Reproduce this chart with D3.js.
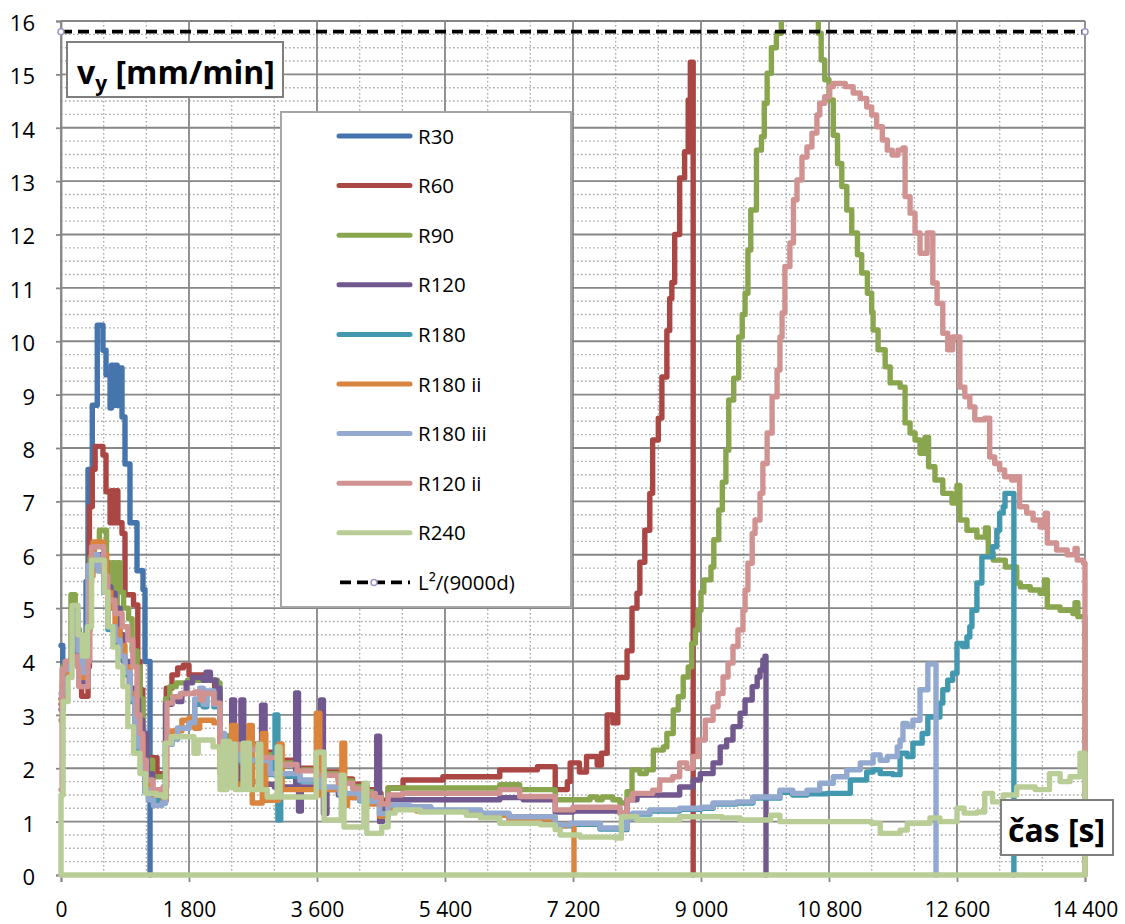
<!DOCTYPE html>
<html><head><meta charset="utf-8">
<script src="https://cdn.jsdelivr.net/npm/d3@7"></script>
<style>body{margin:0;background:#fff;} svg{display:block;font-family:"Open Sans",sans-serif;} text{white-space:pre;}</style>
</head><body><svg id="c" width="1125" height="924"></svg>
<script>
const seriesNames = ["R30","R60","R90","R120","R180","R180 ii","R180 iii","R120 ii","R240"];
const seriesColors = ["#4674AC","#AA4643","#89A54E","#71588F","#4198AF","#DB843D","#93A9CF","#D19392","#B9CD96"];
const refName = "L\u00B2/(9000d)";
const refLine = [[0,15.8],[14400,15.8]];

const R30 = [[0,4.3],[25,3.7],[60,3.95],[150,4.1],[230,4.4],[330,4.5],[352,5.5],[380,7.6],[440,8.8],[510,10.3],[590,9.83],[633,9.37],[690,8.75],[710,9.55],[740,8.8],[760,9.55],[790,8.8],[810,9.5],[858,8.58],[900,7.7],[970,6.6],[1069,5.7],[1153,5.35],[1181,4.0],[1252,0]];

const R60 = [[0,3.2],[20,3.6],[60,3.95],[150,4.1],[200,4.4],[260,3.6],[290,3.35],[380,3.9],[400,6.9],[440,7.6],[480,8.03],[590,7.87],[633,7.18],[690,6.6],[710,7.2],[740,6.6],[770,7.2],[800,6.6],[858,6.4],[900,5.25],[1020,5.06],[1080,4.0],[1111,3.47],[1150,2.3],[1209,2.2],[1350,1.9],[1480,3.5],[1560,3.75],[1640,3.88],[1720,3.93],[1800,3.75],[2100,3.65],[2160,3.35],[2236,2.6],[2500,2.45],[2800,2.3],[3080,2.15],[3320,2.0],[3600,1.93],[3900,1.8],[4100,1.7],[4300,1.6],[4420,1.53],[4500,1.4],[4600,1.63],[4810,1.78],[5370,1.84],[6170,1.97],[6700,2.03],[6950,1.6],[7120,1.75],[7160,2.1],[7290,1.93],[7390,2.22],[7540,2.06],[7600,2.28],[7680,3.0],[7760,2.85],[7830,3.7],[7960,4.2],[8030,5.0],[8100,5.28],[8140,5.86],[8210,6.46],[8280,7.15],[8320,8.15],[8400,8.56],[8450,9.33],[8520,10.2],[8560,10.8],[8590,11.1],[8630,12.0],[8700,13.06],[8770,13.55],[8820,14.52],[8850,15.23],[8890,0]];

const R90 = [[0,2.9],[20,3.9],[60,4.0],[140,5.25],[200,4.6],[260,4.1],[320,3.6],[380,4.6],[410,5.96],[470,6.2],[540,6.46],[640,5.85],[690,5.0],[720,5.85],[750,5.0],[790,5.85],[830,5.3],[880,5.0],[950,4.8],[1000,4.2],[1070,3.9],[1110,3.3],[1150,2.5],[1210,2.15],[1290,1.84],[1440,1.84],[1470,3.3],[1530,3.53],[1620,3.6],[1780,3.65],[2200,3.6],[2236,2.6],[2500,2.4],[2800,2.25],[3080,2.1],[3320,1.97],[3600,1.9],[3900,1.76],[4100,1.66],[4300,1.56],[4420,1.48],[4500,1.32],[4600,1.63],[6170,1.69],[6450,1.6],[6950,1.41],[7440,1.46],[7540,1.41],[7610,1.46],[7760,1.41],[7860,1.35],[7960,1.56],[8030,1.97],[8140,1.9],[8230,1.97],[8330,2.34],[8470,2.4],[8520,2.65],[8610,3.09],[8680,3.34],[8750,3.71],[8820,3.9],[8870,4.34],[8920,4.59],[8960,4.96],[9000,5.3],[9040,5.53],[9140,5.77],[9180,6.28],[9250,6.84],[9300,7.36],[9350,7.96],[9390,8.9],[9460,9.31],[9530,10.08],[9580,10.5],[9620,10.9],[9660,11.71],[9700,12.46],[9780,13.58],[9850,13.83],[9890,14.46],[9930,15.02],[9990,15.5],[10060,15.77],[10130,16.5],[10650,15.77],[10690,15.27],[10740,14.9],[10800,14.52],[10860,13.86],[10920,13.33],[10980,12.9],[11050,12.46],[11120,12.03],[11200,11.62],[11260,11.28],[11340,10.9],[11400,10.55],[11420,10.21],[11490,9.84],[11590,9.52],[11660,9.22],[11800,9.14],[11870,8.47],[11940,8.28],[12010,8.15],[12080,7.9],[12150,8.2],[12200,7.65],[12290,7.4],[12400,7.15],[12530,6.97],[12600,7.3],[12640,6.65],[12740,6.46],[12880,6.33],[13000,6.5],[13040,6.03],[13110,5.9],[13280,5.77],[13440,5.47],[13490,5.4],[13630,5.34],[13770,5.28],[13830,5.53],[13870,5.02],[14050,4.96],[14230,4.9],[14260,5.1],[14300,4.84],[14400,0]];

const R120 = [[0,3.1],[30,3.85],[100,4.0],[160,4.6],[240,4.0],[300,3.6],[380,4.0],[400,5.6],[430,6.0],[600,5.9],[640,5.4],[700,5.28],[760,5.0],[830,4.5],[880,4.0],[960,3.5],[1040,3.28],[1090,2.9],[1150,2.65],[1210,1.9],[1290,1.6],[1440,1.65],[1470,3.2],[1560,3.3],[1640,3.25],[1700,3.4],[1760,3.6],[1850,3.7],[2000,3.65],[2040,3.8],[2100,3.65],[2180,3.5],[2236,2.5],[2300,1.9],[2377,1.75],[2400,3.28],[2440,1.75],[2530,3.28],[2570,1.75],[2820,3.18],[2870,1.7],[3000,1.65],[3300,3.41],[3340,1.2],[3380,1.65],[3650,3.28],[3690,1.15],[3740,1.6],[3900,1.5],[4100,1.45],[4300,1.38],[4440,2.6],[4480,1.0],[4520,1.25],[4600,1.41],[6170,1.45],[6500,1.41],[6950,1.18],[7200,1.2],[7860,1.16],[7960,1.41],[8100,1.5],[8700,1.65],[8890,1.78],[8990,1.9],[9170,2.1],[9270,2.4],[9360,2.53],[9450,2.78],[9550,3.03],[9620,3.28],[9720,3.53],[9790,3.71],[9830,3.84],[9870,4.03],[9900,4.1],[9914,0]];

const R180 = [[0,3.3],[25,3.85],[100,3.95],[160,4.9],[240,4.2],[300,3.8],[360,4.3],[390,5.7],[450,5.95],[520,5.7],[600,5.3],[660,4.6],[760,4.35],[830,4.05],[900,3.75],[970,3.25],[1040,2.75],[1090,2.35],[1140,1.95],[1180,1.55],[1230,1.4],[1420,1.35],[1470,2.45],[1560,2.55],[1640,2.75],[1800,2.85],[1880,3.2],[1950,3.4],[2000,3.15],[2050,3.4],[2150,3.15],[2236,2.6],[2300,2.38],[2520,2.12],[2940,1.88],[3010,3.0],[3050,1.03],[3090,1.85],[3360,1.76],[3640,1.63],[3920,1.5],[4200,1.39],[4345,1.36],[4480,1.13],[4600,1.29],[4900,1.26],[5200,1.2],[5900,1.14],[6300,1.07],[6950,0.92],[7160,0.95],[7580,0.86],[7860,0.85],[7960,1.07],[8040,1.14],[8280,1.2],[8700,1.23],[9000,1.25],[9170,1.33],[9500,1.35],[9730,1.44],[10110,1.55],[10290,1.5],[10490,1.52],[10770,1.53],[11100,1.78],[11330,1.93],[11420,1.97],[11520,1.9],[11700,1.88],[11800,2.28],[11900,2.22],[11980,2.47],[12110,2.65],[12190,2.96],[12360,3.22],[12400,3.47],[12470,3.65],[12540,3.78],[12600,4.34],[12680,4.28],[12740,4.46],[12780,4.65],[12810,4.96],[12880,5.47],[12950,5.96],[13100,6.15],[13160,6.46],[13200,6.78],[13250,6.9],[13275,7.15],[13400,0]];

const R180ii = [[0,3.3],[25,3.8],[100,3.95],[160,4.9],[240,4.3],[300,3.7],[370,4.3],[400,5.6],[450,6.24],[600,6.0],[640,5.3],[700,5.0],[760,4.6],[830,4.3],[900,3.9],[970,3.4],[1040,2.9],[1090,2.6],[1150,2.1],[1200,1.7],[1260,1.5],[1440,1.4],[1480,2.5],[1560,2.7],[1700,2.9],[1800,2.94],[1880,2.75],[1950,2.9],[2150,2.85],[2236,1.9],[2400,2.8],[2460,1.7],[2640,2.8],[2690,1.35],[2830,2.65],[2880,1.4],[3060,2.45],[3110,1.6],[3590,3.03],[3640,1.5],[3690,1.6],[3950,2.47],[3990,1.3],[4030,1.45],[4345,1.33],[4480,1.1],[4600,1.25],[5000,1.2],[5900,1.12],[6300,1.05],[6950,0.92],[7100,0.95],[7214,0]];

const R180iii = [[0,3.4],[25,3.85],[100,3.95],[160,4.9],[240,4.2],[300,3.8],[350,4.3],[380,5.8],[450,6.0],[520,5.7],[600,5.3],[660,4.65],[760,4.4],[830,4.1],[900,3.8],[970,3.3],[1040,2.78],[1090,2.4],[1140,2.0],[1180,1.6],[1230,1.41],[1300,1.3],[1420,1.35],[1470,2.45],[1560,2.55],[1640,2.75],[1800,2.85],[1880,3.3],[1950,3.5],[2000,3.2],[2050,3.45],[2150,3.2],[2236,2.65],[2300,2.4],[2520,2.15],[2940,1.9],[3360,1.78],[3640,1.65],[3920,1.53],[4200,1.41],[4345,1.38],[4480,1.15],[4600,1.31],[4900,1.28],[5200,1.22],[5900,1.16],[6300,1.09],[6950,0.94],[7160,0.97],[7580,0.88],[7860,0.87],[7960,1.09],[8040,1.16],[8280,1.22],[8700,1.25],[9000,1.27],[9170,1.35],[9500,1.37],[9730,1.46],[10110,1.59],[10290,1.53],[10490,1.59],[10670,1.72],[10860,1.84],[11050,1.97],[11240,2.1],[11420,2.25],[11520,2.15],[11620,2.22],[11760,2.4],[11800,2.53],[11840,2.84],[11900,2.78],[11980,2.9],[12080,3.47],[12190,3.95],[12300,3.95],[12305,0]];

const R120ii = [[0,1.6],[15,3.85],[60,4.0],[150,4.1],[230,3.9],[250,3.53],[380,4.0],[400,5.5],[430,6.15],[600,5.6],[660,5.15],[760,4.9],[860,4.65],[940,4.4],[1010,3.9],[1069,3.0],[1110,2.65],[1150,2.15],[1200,1.78],[1290,1.6],[1440,1.65],[1490,3.22],[1570,3.34],[1680,3.4],[1880,3.43],[1960,3.28],[2000,3.4],[2150,3.22],[2236,2.45],[2500,2.35],[2800,2.2],[3080,2.07],[3320,1.95],[3600,1.87],[3900,1.72],[4100,1.62],[4300,1.53],[4420,1.45],[4500,1.33],[4600,1.5],[4800,1.53],[6170,1.6],[6450,1.47],[6950,1.22],[7200,1.27],[7760,1.27],[7860,1.16],[7960,1.41],[8040,1.53],[8320,1.59],[8420,1.78],[8600,1.84],[8700,2.1],[8800,2.0],[8890,2.22],[8960,2.53],[9060,2.9],[9170,3.15],[9240,3.4],[9310,3.71],[9380,3.97],[9450,4.28],[9520,4.59],[9590,4.96],[9620,5.34],[9660,5.84],[9720,6.4],[9760,6.65],[9830,7.15],[9870,7.71],[9930,8.28],[10000,8.96],[10070,9.46],[10110,10.08],[10140,10.53],[10180,11.4],[10250,11.84],[10300,12.65],[10350,13.02],[10420,13.45],[10490,13.64],[10560,13.9],[10630,14.24],[10670,14.46],[10740,14.58],[10810,14.77],[10860,14.83],[11030,14.77],[11140,14.65],[11240,14.55],[11330,14.39],[11400,14.24],[11470,14.02],[11550,13.77],[11620,13.58],[11690,13.49],[11770,13.58],[11840,13.62],[11870,12.71],[11940,12.4],[12010,12.03],[12080,11.65],[12180,12.03],[12260,11.09],[12320,10.71],[12400,10.15],[12470,9.84],[12540,10.08],[12640,9.14],[12710,8.96],[12780,8.77],[12850,8.53],[12990,8.56],[13060,7.83],[13130,7.71],[13200,7.59],[13270,7.46],[13370,7.4],[13420,7.46],[13480,6.9],[13580,6.78],[13670,6.65],[13770,6.52],[13840,6.78],[13870,6.22],[14000,6.09],[14150,6.0],[14260,6.12],[14290,5.9],[14380,5.84],[14400,0]];

const R240 = [[0,0],[0,1.5],[30,3.25],[100,3.7],[155,5.05],[240,4.5],[300,4.1],[370,4.65],[430,5.9],[610,5.3],[660,4.65],[730,4.27],[800,3.9],[870,3.53],[940,2.78],[1020,2.28],[1110,1.9],[1190,1.53],[1340,1.5],[1440,1.46],[1470,2.47],[1550,2.59],[1870,2.28],[1930,2.53],[2138,2.4],[2236,1.6],[2280,2.5],[2310,1.6],[2334,2.5],[2370,1.65],[2420,2.45],[2450,1.6],[2560,2.47],[2600,1.6],[2616,2.47],[2650,1.6],[2770,2.45],[2810,1.6],[2900,1.46],[3040,2.4],[3080,1.46],[3590,2.3],[3700,1.03],[3940,1.87],[3980,0.9],[4260,1.72],[4300,0.78],[4510,0.9],[4600,1.16],[4700,1.22],[5050,1.18],[5700,1.12],[5900,1.07],[6170,0.97],[6740,0.94],[6950,0.85],[7020,0.75],[7300,0.71],[7800,0.69],[7880,1.09],[8100,1.03],[8700,1.09],[9300,1.07],[9550,1.03],[9980,1.12],[10110,1.0],[11400,0.97],[11520,0.78],[11800,0.84],[11900,0.97],[12220,1.07],[12360,1.0],[12600,1.25],[12700,1.16],[12880,1.18],[12990,1.53],[13100,1.37],[13250,1.5],[13440,1.65],[13700,1.6],[13900,1.9],[14050,1.75],[14190,1.84],[14330,2.28],[14400,0],[0,0]];

const seriesData = [R30,R60,R90,R120,R180,R180ii,R180iii,R120ii,R240];

const xTickValues = [0,1800,3600,5400,7200,9000,10800,12600,14400];
const xTickLabels = ["0","1 800","3 600","5 400","7 200","9 000","10 800","12 600","14 400"];
const yTickValues = [0,1,2,3,4,5,6,7,8,9,10,11,12,13,14,15,16];
const yTickLabels = ["0","1","2","3","4","5","6","7","8","9","10","11","12","13","14","15","16"];
const yAxisTitle = ["v","y"," [mm/min]"];
const xAxisTitle = "čas [s]";

const svg = d3.select("#c");
const L = 61, R = 1085, T = 21, B = 875;
const x = d3.scaleLinear().domain([0,14400]).range([L,R]);
const y = d3.scaleLinear().domain([0,16]).range([B,T]);

// minor grid
const g = svg.append("g");
const minorX = d3.range(600,14400,600).filter(v => v % 1800 !== 0);
const minorY = d3.range(1,64).map(i => i/4).filter(v => v % 1 !== 0);
g.selectAll(".mx").data(minorX).join("line")
  .attr("x1",d=>x(d)).attr("x2",d=>x(d)).attr("y1",T).attr("y2",B)
  .attr("stroke","#a8a8a8").attr("stroke-width",1.4).attr("stroke-dasharray","1.6,2.4");
g.selectAll(".my").data(minorY).join("line")
  .attr("y1",d=>y(d)).attr("y2",d=>y(d)).attr("x1",L).attr("x2",R)
  .attr("stroke","#a8a8a8").attr("stroke-width",1.4).attr("stroke-dasharray","1.6,2.4");
// major grid
g.selectAll(".Mx").data(xTickValues).join("line")
  .attr("x1",d=>x(d)).attr("x2",d=>x(d)).attr("y1",T).attr("y2",B)
  .attr("stroke","#878787").attr("stroke-width",1.8);
g.selectAll(".My").data(yTickValues).join("line")
  .attr("y1",d=>y(d)).attr("y2",d=>y(d)).attr("x1",L).attr("x2",R)
  .attr("stroke","#878787").attr("stroke-width",1.8);

// axes
const xAxis = d3.axisBottom(x).tickValues(xTickValues).tickFormat((d,i)=>xTickLabels[i]).tickSize(7).tickPadding(21);
const yAxis = d3.axisLeft(y).tickValues(yTickValues).tickFormat((d,i)=>yTickLabels[i]).tickSize(5).tickPadding(21);
const gx = svg.append("g").attr("transform",`translate(0,${B})`).call(xAxis);
const gy = svg.append("g").attr("transform",`translate(${L},0)`).call(yAxis);
[gx,gy].forEach(a=>{
  a.select(".domain").attr("stroke","#878787").attr("stroke-width",1.8);
  a.selectAll(".tick line").attr("stroke","#878787").attr("stroke-width",1.8);
  a.selectAll(".tick text").attr("font-size",22).attr("fill","#000").attr("font-family","Open Sans, sans-serif");
});
gy.selectAll(".tick text").attr("dy","0.43em");
gx.selectAll(".tick text").attr("font-size",21).attr("dy","0.68em");

// clip
svg.append("clipPath").attr("id","clipTop").append("rect").attr("x",0).attr("y",T).attr("width",1125).attr("height",924-T);

const line = d3.line().x(d=>x(d[0])).y(d=>y(d[1])).curve(d3.curveStepAfter);
const lg = svg.append("g").attr("clip-path","url(#clipTop)");
seriesData.forEach((data,i)=>{
  lg.append("path").datum(data).attr("d",line)
    .attr("fill","none").attr("stroke",seriesColors[i]).attr("stroke-width",5.4)
    .attr("stroke-linejoin","round").attr("stroke-linecap","round");
});
// reference dashed line
const refLineGen = d3.line().x(d=>x(d[0])).y(d=>y(d[1]));
svg.append("path").datum(refLine).attr("d",refLineGen).attr("fill","none")
  .attr("stroke","#000").attr("stroke-width",3.8).attr("stroke-dasharray","11,6");
svg.selectAll(".refm").data(refLine).join("circle")
  .attr("cx",d=>x(d[0])).attr("cy",d=>y(d[1])).attr("r",3)
  .attr("fill","#fff").attr("stroke","#a393c9").attr("stroke-width",1.5);

// legend
const leg = svg.append("g");
leg.append("rect").attr("x",281).attr("y",112).attr("width",290).attr("height",495)
  .attr("fill","#fff").attr("stroke","#a6a6a6").attr("stroke-width",2);
const legNames = seriesNames.concat([refName]);
legNames.forEach((n,i)=>{
  const cy = 136 + i*49.6;
  if (i < seriesNames.length) {
    leg.append("line").attr("x1",339).attr("x2",410).attr("y1",cy).attr("y2",cy)
      .attr("stroke",seriesColors[i]).attr("stroke-width",5).attr("stroke-linecap","round");
  } else {
    leg.append("line").attr("x1",340).attr("x2",410).attr("y1",cy).attr("y2",cy)
      .attr("stroke","#000").attr("stroke-width",3.8).attr("stroke-dasharray","11,6");
    leg.append("circle").attr("cx",374).attr("cy",cy).attr("r",3)
      .attr("fill","#fff").attr("stroke","#a393c9").attr("stroke-width",1.5);
  }
  leg.append("text").attr("x",418).attr("y",cy+7.5).attr("font-size",20.5).attr("fill","#000").text(n);
});

// axis title boxes
svg.append("rect").attr("x",67).attr("y",42).attr("width",216).attr("height",55)
  .attr("fill","#fff").attr("stroke","#7f7f7f").attr("stroke-width",2);
const t1 = svg.append("text").attr("x",77).attr("y",84).attr("font-size",32).attr("font-weight","bold").attr("fill","#000");
t1.append("tspan").text(yAxisTitle[0]);
t1.append("tspan").attr("dy",7).attr("font-size",21).text(yAxisTitle[1]);
t1.append("tspan").attr("dy",-7).text(yAxisTitle[2]);

svg.append("rect").attr("x",1001).attr("y",800).attr("width",112).attr("height",55)
  .attr("fill","#fff").attr("stroke","#7f7f7f").attr("stroke-width",2);
svg.append("text").attr("x",1008).attr("y",842).attr("font-size",32).attr("font-weight","bold").attr("fill","#000").text(xAxisTitle);
</script>
</body></html>
